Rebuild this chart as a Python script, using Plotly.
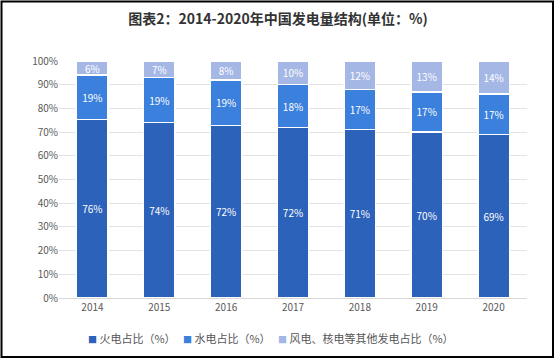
import plotly.graph_objects as go

years = ["2014", "2015", "2016", "2017", "2018", "2019", "2020"]
thermal = [76, 74, 72, 72, 71, 70, 69]
hydro = [19, 19, 19, 18, 17, 17, 17]
other = [6, 7, 8, 10, 12, 13, 14]
names = ["火电占比（%）", "水电占比（%）", "风电、核电等其他发电占比（%）"]
y_ticks = list(range(0, 101, 10))
y_tick_labels = [f"{v}%" for v in y_ticks]

colors = ["#2C62BA", "#3A80DC", "#A5B7E5"]
font_cn = "Noto Sans CJK SC"

fig = go.Figure()
for name, vals, col in zip(names, [thermal, hydro, other], colors):
    fig.add_trace(go.Bar(
        x=years, y=vals, name=name, showlegend=False,
        marker=dict(color=col, line=dict(color="white", width=1.5)),
        text=[f"{v}%" for v in vals], textposition="inside",
        insidetextanchor="middle", textangle=0, constraintext="none",
        textfont=dict(color="white", size=10, family=font_cn),
    ))

W, H = 556, 360
L, R, T, B = 59, 29, 61, 62
pw, ph = W - L - R, H - T - B

def px_x(x):
    return (x - L) / pw

def px_y(y):
    return (H - B - y) / ph

# legend drawn as annotations (small square glyphs like the source)
legend_x = [86, 181, 276]
annotations = []
for name, col, lx in zip(names, colors, legend_x):
    annotations.append(dict(
        xref="paper", yref="paper", x=px_x(lx), y=px_y(338),
        xanchor="left", yanchor="middle", showarrow=False,
        text=f"<span style='color:{col};font-size:9px'>■</span> {name}",
        font=dict(size=11, color="#555555", family=font_cn)))

fig.update_layout(
    width=W, height=H,
    barmode="stack", barnorm="percent", bargap=0.53,
    margin=dict(l=L, r=R, t=T, b=B, autoexpand=False),
    paper_bgcolor="white", plot_bgcolor="white",
    font=dict(family=font_cn, color="#555555", size=10),
    title=dict(text="<b>图表2：2014-2020年中国发电量结构(单位：%)</b>",
               x=0.5, xanchor="center", y=1 - 19 / H, yanchor="middle",
               font=dict(size=14, color="#333333", family=font_cn)),
    showlegend=False,
    annotations=annotations,
    xaxis=dict(showgrid=False, showline=True, linecolor="#D9D9D9", linewidth=1,
               ticks="", tickfont=dict(size=10, color="#595959")),
    yaxis=dict(range=[0, 100], tickvals=y_ticks, ticktext=y_tick_labels,
               showgrid=True, gridcolor="#E3E3E3", gridwidth=1, zeroline=False,
               tickfont=dict(size=10, color="#595959"), ticks=""),
    shapes=[dict(type="rect", xref="paper", yref="paper",
                 x0=px_x(1.5), x1=px_x(553), y0=px_y(357), y1=px_y(1.5),
                 line=dict(color="black", width=2), layer="above")],
)

fig.write_html("out.html", config={"displayModeBar": False},
               post_script="document.body.style.margin='0';")
